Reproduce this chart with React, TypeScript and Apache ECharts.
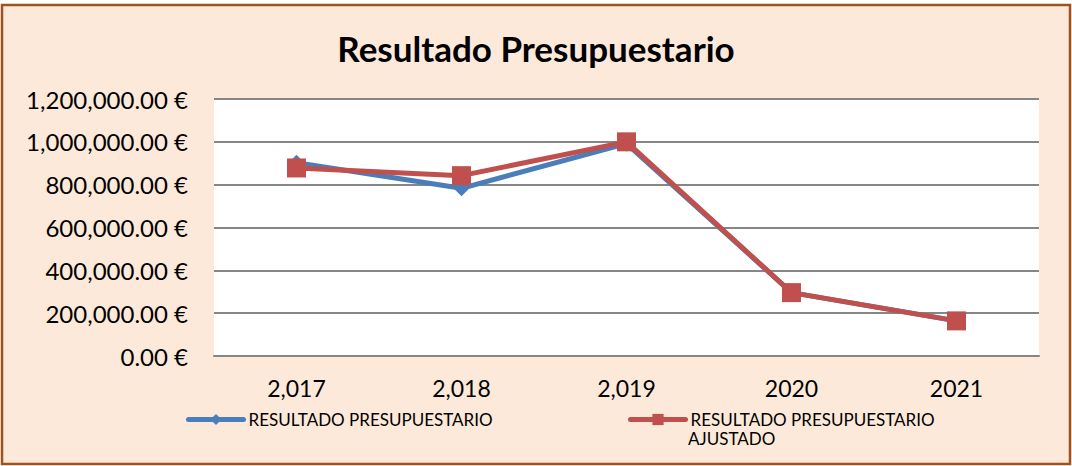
import React, { useEffect, useRef } from "react";
import * as echarts from "echarts";

const categories = ["2,017", "2,018", "2,019", "2020", "2021"];
const resultado = [902000, 783000, 992000, 296000, 164000];
const resultadoAjustado = [878000, 842000, 1000000, 296000, 164000];
const seriesNames = ["RESULTADO PRESUPUESTARIO", "RESULTADO PRESUPUESTARIO AJUSTADO"];
const legendLine1 = "RESULTADO PRESUPUESTARIO";
const legendLine2 = "AJUSTADO";
const yTicks = { min: 0, max: 1200000, interval: 200000 };
const titleText = "Resultado Presupuestario";

function fmtEuro(v: number): string {
  const fixed = v.toFixed(2);
  const [intPart, dec] = fixed.split(".");
  const withCommas = intPart.replace(/\B(?=(\d{3})+(?!\d))/g, ",");
  return `${withCommas}.${dec} €`;
}

export default function App() {
  const ref = useRef<HTMLDivElement>(null);
  useEffect(() => {
    if (!ref.current) return;
    const chart = echarts.init(ref.current, undefined, { renderer: "svg" });
    const font = "Lato";
    chart.setOption({
      animation: false,
      backgroundColor: "#ffffff",
      title: {
        text: titleText,
        left: "center",
        top: 25,
        textStyle: { fontFamily: font, fontWeight: "bold", fontSize: 35, color: "#000" },
      },
      graphic: [
        {
          type: "rect",
          z: -10,
          silent: true,
          shape: { x: 2, y: 5, width: 1068, height: 459 },
          style: { fill: "#FDE9D9", stroke: "#A0521E", lineWidth: 2.5 },
        },
        {
          type: "text",
          left: 688,
          top: 430,
          silent: true,
          style: { text: legendLine2, fontFamily: font, fontSize: 17, fill: "#000" },
        },
      ],
      grid: {
        left: 214,
        right: 33,
        top: 99,
        bottom: 110,
        show: true,
        backgroundColor: "#ffffff",
        borderWidth: 0,
      },
      legend: [
        {
          data: [seriesNames[0]],
          left: 186,
          top: 411,
          padding: 0,
          itemWidth: 55,
          itemHeight: 14,
          itemGap: 0,
          lineStyle: { width: 5, cap: "round" },
          textStyle: { fontFamily: font, fontSize: 17, color: "#000" },
        },
        {
          data: [seriesNames[1]],
          left: 628,
          top: 411,
          padding: 0,
          itemWidth: 55,
          itemHeight: 14,
          itemGap: 0,
          lineStyle: { width: 5, cap: "round" },
          formatter: () => legendLine1,
          textStyle: { fontFamily: font, fontSize: 17, color: "#000" },
        },
      ],
      xAxis: {
        type: "category",
        data: categories,
        boundaryGap: true,
        axisLine: { show: true, lineStyle: { color: "#868686", width: 2 } },
        axisTick: { show: false },
        axisLabel: { fontFamily: font, fontSize: 23, color: "#000", margin: 20 },
      },
      yAxis: {
        type: "value",
        min: yTicks.min,
        max: yTicks.max,
        interval: yTicks.interval,
        axisLine: { show: false },
        axisTick: { show: false },
        splitLine: { show: true, lineStyle: { color: "#868686", width: 2 } },
        axisLabel: {
          fontFamily: font,
          fontSize: 24,
          color: "#000",
          margin: 26,
          formatter: (v: number) => fmtEuro(v),
        },
      },
      series: [
        {
          name: seriesNames[0],
          type: "line",
          data: resultado,
          symbol: "diamond",
          symbolSize: 16,
          z: 2,
          itemStyle: { color: "#4A7EBB" },
          lineStyle: { color: "#4A7EBB", width: 5, cap: "round" },
        },
        {
          name: seriesNames[1],
          type: "line",
          data: resultadoAjustado,
          symbol: "rect",
          symbolSize: 19,
          z: 3,
          itemStyle: { color: "#C0504D" },
          lineStyle: { color: "#C0504D", width: 5, cap: "round" },
        },
      ],
    });
    return () => chart.dispose();
  }, []);
  return (
    <div
      ref={ref}
      style={{ position: "absolute", left: 0, top: 0, width: 1072, height: 466 }}
    />
  );
}
